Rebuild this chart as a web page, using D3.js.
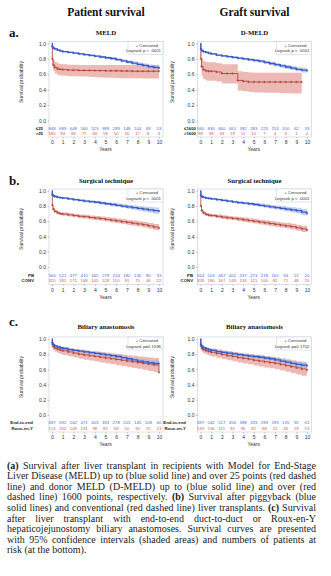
<!DOCTYPE html>
<html lang="en">
<head>
<meta charset="utf-8">
<title>Survival after liver transplant</title>
<script src="https://d3js.org/d3.v7.min.js"></script>
<style>
  body { margin: 0; background: #fff; }
  svg { display: block; }
  .axis text { font-family: "Liberation Sans", Arial, sans-serif; font-size: 5px; fill: #333; }
  .axis line { stroke: #8a8f99; stroke-width: 0.5; }
  .axis path { display: none; }
</style>
</head>
<body>
<script>
// time points (years) where each Kaplan-Meier estimate is tabulated
var years = [0, 0.03, 0.1, 0.25, 0.5, 0.75, 1, 1.5, 2, 2.5, 3, 3.5, 4, 4.5, 5, 5.5, 6, 6.5, 7, 7.5, 8, 8.5, 9, 9.5, 10];
var riskYears = [0, 1, 2, 3, 4, 5, 6, 7, 8, 9, 10];
var yTicks = [0, 0.2, 0.4, 0.6, 0.8, 1.0];

// (a) MELD, patient survival
var meldLowSurv = [1.00, 0.96, 0.94, 0.93, 0.915, 0.905, 0.895, 0.885, 0.875, 0.865, 0.855, 0.845, 0.835, 0.825, 0.815, 0.805, 0.79, 0.775, 0.76, 0.745, 0.73, 0.715, 0.70, 0.69, 0.68];
var meldLowLo   = [1.00, 0.95, 0.93, 0.92, 0.905, 0.895, 0.885, 0.874, 0.864, 0.853, 0.843, 0.832, 0.821, 0.81, 0.80, 0.788, 0.772, 0.756, 0.74, 0.723, 0.706, 0.69, 0.673, 0.66, 0.65];
var meldLowHi   = [1.00, 0.97, 0.95, 0.94, 0.925, 0.915, 0.905, 0.896, 0.886, 0.877, 0.867, 0.858, 0.849, 0.84, 0.83, 0.822, 0.808, 0.794, 0.78, 0.767, 0.754, 0.74, 0.727, 0.72, 0.71];
var meldHighSurv = [1.00, 0.80, 0.72, 0.69, 0.67, 0.665, 0.66, 0.655, 0.655, 0.65, 0.65, 0.65, 0.648, 0.648, 0.645, 0.645, 0.645, 0.643, 0.643, 0.64, 0.64, 0.64, 0.64, 0.64, 0.64];
var meldHighLo   = [1.00, 0.73, 0.65, 0.61, 0.59, 0.585, 0.58, 0.575, 0.575, 0.57, 0.57, 0.565, 0.562, 0.56, 0.555, 0.555, 0.552, 0.55, 0.55, 0.548, 0.548, 0.545, 0.545, 0.545, 0.545];
var meldHighHi   = [1.00, 0.86, 0.79, 0.76, 0.74, 0.735, 0.73, 0.725, 0.725, 0.72, 0.72, 0.72, 0.72, 0.72, 0.72, 0.72, 0.72, 0.72, 0.72, 0.72, 0.72, 0.72, 0.72, 0.72, 0.72];
var meldLowRisk  = [848, 689, 648, 560, 523, 389, 289, 148, 104, 83, 53];
var meldHighRisk = [180, 94, 86, 77, 68, 58, 50, 30, 17, 8, 3];

// (a) D-MELD, graft survival
var dmeldLowSurv = [1.00, 0.93, 0.91, 0.895, 0.885, 0.875, 0.865, 0.85, 0.84, 0.83, 0.82, 0.81, 0.80, 0.79, 0.78, 0.77, 0.755, 0.74, 0.725, 0.71, 0.695, 0.68, 0.665, 0.655, 0.645];
var dmeldLowLo   = [1.00, 0.92, 0.90, 0.885, 0.875, 0.864, 0.854, 0.838, 0.828, 0.817, 0.806, 0.795, 0.784, 0.773, 0.762, 0.75, 0.734, 0.718, 0.702, 0.686, 0.67, 0.654, 0.638, 0.625, 0.615];
var dmeldLowHi   = [1.00, 0.94, 0.92, 0.905, 0.895, 0.886, 0.876, 0.862, 0.852, 0.843, 0.834, 0.825, 0.816, 0.807, 0.798, 0.79, 0.776, 0.762, 0.748, 0.734, 0.72, 0.706, 0.692, 0.685, 0.675];
var dmeldHighSurv = [1.00, 0.80, 0.70, 0.66, 0.645, 0.64, 0.64, 0.63, 0.61, 0.61, 0.61, 0.52, 0.51, 0.50, 0.50, 0.50, 0.50, 0.50, 0.50, 0.50, 0.50, 0.50, 0.50, 0.50, null];
var dmeldHighLo   = [1.00, 0.68, 0.58, 0.54, 0.52, 0.515, 0.515, 0.505, 0.48, 0.48, 0.48, 0.39, 0.38, 0.37, 0.365, 0.365, 0.36, 0.36, 0.36, 0.355, 0.355, 0.35, 0.35, 0.35, null];
var dmeldHighHi   = [1.00, 0.90, 0.81, 0.77, 0.76, 0.755, 0.755, 0.745, 0.73, 0.73, 0.73, 0.64, 0.63, 0.625, 0.62, 0.62, 0.62, 0.62, 0.62, 0.62, 0.62, 0.62, 0.62, 0.62, null];
var dmeldLowRisk  = [940, 830, 660, 461, 382, 283, 223, 153, 100, 62, 33];
var dmeldHighRisk = [98, 38, 33, 19, 11, 10, 7, 4, 3, 1, 0];

// (b) surgical technique, patient survival
var techPatPbSurv = [1.00, 0.95, 0.935, 0.925, 0.915, 0.91, 0.905, 0.895, 0.885, 0.875, 0.865, 0.858, 0.85, 0.84, 0.83, 0.82, 0.81, 0.80, 0.79, 0.78, 0.77, 0.76, 0.75, 0.74, 0.73];
var techPatPbLo   = [1.00, 0.94, 0.925, 0.914, 0.904, 0.898, 0.892, 0.882, 0.871, 0.86, 0.849, 0.841, 0.832, 0.821, 0.81, 0.798, 0.786, 0.775, 0.763, 0.751, 0.739, 0.726, 0.713, 0.70, 0.685];
var techPatPbHi   = [1.00, 0.96, 0.945, 0.936, 0.926, 0.922, 0.918, 0.908, 0.899, 0.89, 0.881, 0.875, 0.868, 0.859, 0.85, 0.842, 0.834, 0.825, 0.817, 0.809, 0.801, 0.794, 0.787, 0.78, 0.775];
var techPatConvSurv = [1.00, 0.81, 0.76, 0.73, 0.71, 0.70, 0.695, 0.685, 0.675, 0.665, 0.66, 0.65, 0.643, 0.635, 0.625, 0.615, 0.605, 0.595, 0.585, 0.575, 0.565, 0.555, 0.54, 0.525, 0.51];
var techPatConvLo   = [1.00, 0.79, 0.74, 0.71, 0.69, 0.68, 0.674, 0.663, 0.652, 0.641, 0.635, 0.624, 0.616, 0.607, 0.596, 0.585, 0.574, 0.563, 0.552, 0.541, 0.53, 0.518, 0.502, 0.485, 0.465];
var techPatConvHi   = [1.00, 0.83, 0.78, 0.75, 0.73, 0.72, 0.716, 0.707, 0.698, 0.689, 0.685, 0.676, 0.67, 0.663, 0.654, 0.645, 0.636, 0.627, 0.618, 0.609, 0.60, 0.592, 0.578, 0.565, 0.555];
var techPatPbRisk   = [564, 521, 477, 410, 345, 279, 224, 182, 130, 80, 33];
var techPatConvRisk = [320, 181, 171, 168, 145, 128, 110, 91, 75, 46, 22];

// (b) surgical technique, graft survival
var techGraftPbSurv = [1.00, 0.94, 0.925, 0.915, 0.905, 0.90, 0.895, 0.885, 0.875, 0.865, 0.855, 0.845, 0.838, 0.83, 0.82, 0.81, 0.80, 0.79, 0.78, 0.77, 0.76, 0.75, 0.74, 0.72, 0.70];
var techGraftPbLo   = [1.00, 0.93, 0.915, 0.904, 0.894, 0.888, 0.882, 0.872, 0.861, 0.85, 0.839, 0.828, 0.82, 0.811, 0.80, 0.788, 0.776, 0.765, 0.753, 0.741, 0.729, 0.716, 0.703, 0.68, 0.655];
var techGraftPbHi   = [1.00, 0.95, 0.935, 0.926, 0.916, 0.912, 0.908, 0.898, 0.889, 0.88, 0.871, 0.862, 0.856, 0.849, 0.84, 0.832, 0.824, 0.815, 0.807, 0.799, 0.791, 0.784, 0.777, 0.76, 0.745];
var techGraftConvSurv = [1.00, 0.80, 0.74, 0.71, 0.69, 0.68, 0.675, 0.665, 0.655, 0.645, 0.638, 0.63, 0.62, 0.61, 0.60, 0.59, 0.58, 0.57, 0.56, 0.55, 0.54, 0.53, 0.515, 0.50, 0.485];
var techGraftConvLo   = [1.00, 0.78, 0.72, 0.69, 0.67, 0.659, 0.653, 0.642, 0.631, 0.62, 0.612, 0.603, 0.592, 0.581, 0.57, 0.559, 0.548, 0.537, 0.526, 0.515, 0.504, 0.492, 0.476, 0.46, 0.44];
var techGraftConvHi   = [1.00, 0.82, 0.76, 0.73, 0.71, 0.701, 0.697, 0.688, 0.679, 0.67, 0.664, 0.657, 0.648, 0.639, 0.63, 0.621, 0.612, 0.603, 0.594, 0.585, 0.576, 0.568, 0.554, 0.54, 0.53];
var techGraftPbRisk   = [564, 503, 467, 402, 337, 273, 218, 165, 94, 57, 20];
var techGraftConvRisk = [328, 180, 167, 149, 133, 121, 100, 82, 71, 48, 20];

// (c) biliary anastomosis, patient survival
var bilPatEndSurv = [1.00, 0.95, 0.925, 0.91, 0.895, 0.885, 0.875, 0.86, 0.85, 0.84, 0.83, 0.82, 0.81, 0.80, 0.79, 0.78, 0.77, 0.755, 0.74, 0.725, 0.71, 0.70, 0.69, 0.68, 0.675];
var bilPatEndLo   = [1.00, 0.94, 0.914, 0.898, 0.882, 0.871, 0.86, 0.844, 0.833, 0.822, 0.811, 0.80, 0.789, 0.778, 0.767, 0.756, 0.745, 0.729, 0.713, 0.697, 0.68, 0.668, 0.655, 0.64, 0.63];
var bilPatEndHi   = [1.00, 0.96, 0.936, 0.922, 0.908, 0.899, 0.89, 0.876, 0.867, 0.858, 0.849, 0.84, 0.831, 0.822, 0.813, 0.804, 0.795, 0.781, 0.767, 0.753, 0.74, 0.732, 0.725, 0.72, 0.72];
var bilPatRouxSurv = [1.00, 0.93, 0.90, 0.88, 0.865, 0.855, 0.845, 0.83, 0.815, 0.80, 0.79, 0.78, 0.77, 0.76, 0.75, 0.74, 0.73, 0.72, 0.71, 0.70, 0.69, 0.68, 0.67, 0.66, 0.56];
var bilPatRouxLo   = [1.00, 0.89, 0.855, 0.833, 0.815, 0.803, 0.791, 0.774, 0.757, 0.74, 0.728, 0.716, 0.704, 0.692, 0.68, 0.668, 0.656, 0.644, 0.632, 0.62, 0.607, 0.594, 0.58, 0.565, 0.44];
var bilPatRouxHi   = [1.00, 0.96, 0.94, 0.922, 0.91, 0.902, 0.894, 0.882, 0.87, 0.858, 0.85, 0.842, 0.834, 0.826, 0.818, 0.81, 0.802, 0.794, 0.786, 0.778, 0.77, 0.763, 0.757, 0.75, 0.69];
var bilPatEndRisk  = [697, 592, 562, 471, 403, 333, 278, 201, 145, 108, 60];
var bilPatRouxRisk = [174, 160, 149, 131, 98, 85, 68, 50, 30, 25, 13];

// (c) biliary anastomosis, graft survival
var bilGraftEndSurv = [1.00, 0.93, 0.905, 0.885, 0.87, 0.86, 0.85, 0.835, 0.825, 0.815, 0.805, 0.795, 0.785, 0.775, 0.77, 0.76, 0.75, 0.74, 0.725, 0.71, 0.695, 0.68, 0.665, 0.655, 0.645];
var bilGraftEndLo   = [1.00, 0.92, 0.893, 0.872, 0.856, 0.845, 0.834, 0.818, 0.807, 0.796, 0.785, 0.774, 0.763, 0.752, 0.746, 0.735, 0.724, 0.713, 0.697, 0.681, 0.665, 0.649, 0.632, 0.62, 0.605];
var bilGraftEndHi   = [1.00, 0.94, 0.917, 0.898, 0.884, 0.875, 0.866, 0.852, 0.843, 0.834, 0.825, 0.816, 0.807, 0.798, 0.794, 0.785, 0.776, 0.767, 0.753, 0.739, 0.725, 0.711, 0.698, 0.69, 0.685];
var bilGraftRouxSurv = [1.00, 0.91, 0.88, 0.86, 0.845, 0.835, 0.825, 0.81, 0.795, 0.78, 0.77, 0.755, 0.745, 0.735, 0.72, 0.71, 0.70, 0.69, 0.68, 0.665, 0.65, 0.635, 0.62, 0.605, 0.59];
var bilGraftRouxLo   = [1.00, 0.87, 0.835, 0.813, 0.795, 0.783, 0.771, 0.754, 0.737, 0.72, 0.708, 0.691, 0.679, 0.667, 0.65, 0.638, 0.626, 0.614, 0.602, 0.585, 0.568, 0.551, 0.534, 0.515, 0.495];
var bilGraftRouxHi   = [1.00, 0.94, 0.92, 0.902, 0.89, 0.882, 0.874, 0.862, 0.85, 0.838, 0.83, 0.818, 0.81, 0.802, 0.79, 0.782, 0.774, 0.766, 0.758, 0.745, 0.732, 0.719, 0.706, 0.695, 0.685];
var bilGraftEndRisk  = [697, 542, 517, 456, 388, 333, 283, 193, 135, 92, 61];
var bilGraftRouxRisk = [139, 136, 111, 95, 90, 81, 68, 51, 36, 19, 13];

var columnTitles = ["Patient survival", "Graft survival"];
var rowLetters = ["a.", "b.", "c."];

var caption = [
  "(a) Survival after liver transplant in recipients with Model for End-Stage",
  "Liver Disease (MELD) up to (blue solid line) and over 25 points (red dashed",
  "line) and donor MELD (D-MELD) up to (blue solid line) and over (red",
  "dashed line) 1600 points, respectively. (b) Survival after piggyback (blue",
  "solid lines) and conventional (red dashed line) liver transplants. (c) Survival",
  "after liver transplant with end-to-end duct-to-duct or Roux-en-Y",
  "hepaticojejunostomy biliary anastomoses. Survival curves are presented",
  "with 95% confidence intervals (shaded areas) and numbers of patients at",
  "risk (at the bottom)."
];

function series(s, lo, hi, risk) {
  return { s: s, lo: lo, hi: hi, risk: risk };
}

var panels = [
  { row: 0, col: 0, title: "MELD", groups: ["\u226425", ">25"], p: "Logrank p < .0001",
    top: series(meldLowSurv, meldLowLo, meldLowHi, meldLowRisk),
    bottom: series(meldHighSurv, meldHighLo, meldHighHi, meldHighRisk) },
  { row: 0, col: 1, title: "D-MELD", groups: ["\u22641600", ">1600"], p: "Logrank p < .0001",
    top: series(dmeldLowSurv, dmeldLowLo, dmeldLowHi, dmeldLowRisk),
    bottom: series(dmeldHighSurv, dmeldHighLo, dmeldHighHi, dmeldHighRisk) },
  { row: 1, col: 0, title: "Surgical technique", groups: ["PB", "CONV"], p: "Logrank p < .0001",
    top: series(techPatPbSurv, techPatPbLo, techPatPbHi, techPatPbRisk),
    bottom: series(techPatConvSurv, techPatConvLo, techPatConvHi, techPatConvRisk) },
  { row: 1, col: 1, title: "Surgical technique", groups: ["PB", "CONV"], p: "Logrank p < .0001",
    top: series(techGraftPbSurv, techGraftPbLo, techGraftPbHi, techGraftPbRisk),
    bottom: series(techGraftConvSurv, techGraftConvLo, techGraftConvHi, techGraftConvRisk) },
  { row: 2, col: 0, title: "Biliary anastomosis", groups: ["End-to-end", "Roux-en-Y"], p: "Logrank p=0.1596",
    top: series(bilPatEndSurv, bilPatEndLo, bilPatEndHi, bilPatEndRisk),
    bottom: series(bilPatRouxSurv, bilPatRouxLo, bilPatRouxHi, bilPatRouxRisk) },
  { row: 2, col: 1, title: "Biliary anastomosis", groups: ["End-to-end", "Roux-en-Y"], p: "Logrank p=0.1702",
    top: series(bilGraftEndSurv, bilGraftEndLo, bilGraftEndHi, bilGraftEndRisk),
    bottom: series(bilGraftRouxSurv, bilGraftRouxLo, bilGraftRouxHi, bilGraftRouxRisk) }
];

// layout of the 3 x 2 grid
var rows = [
  { frameTop: 41.5, y1: 43.5, y0: 120.5, risk: [130.2, 135.2], frameBottom: 137, titleY: 35.3, letterY: 36.5 },
  { frameTop: 189, y1: 190.8, y0: 267, risk: [276.7, 282.2], frameBottom: 284.5, titleY: 183.3, letterY: 184.5 },
  { frameTop: 337, y1: 339, y0: 415, risk: [424.4, 429.7], frameBottom: 432, titleY: 329, letterY: 326 }
];
var cols = [
  { left: 49, right: 163, x0: 52, x10: 159, yLabelX: 23, groupRight: [43, 34, 33] },
  { left: 197.5, right: 311.5, x0: 200.5, x10: 307, yLabelX: 173.5, groupRight: [196, 193, 186] }
];

var blue = "#3b5bc4", red = "#a93a2f";
var blueBand = "#9fb2ea", redBand = "#e6a29b";
var blueText = "#4b6bd2", redText = "#cf5c4f";
var sans = "'Liberation Sans', Arial, sans-serif";
var serif = "'Liberation Serif', 'Times New Roman', serif";

var svg = d3.select("body").append("svg")
  .attr("width", 331)
  .attr("height", 576);

// column headings
columnTitles.forEach(function(t, i) {
  svg.append("text")
    .attr("x", (cols[i].left + cols[i].right) / 2)
    .attr("y", 16)
    .attr("text-anchor", "middle")
    .attr("font-family", serif)
    .attr("font-weight", "bold")
    .attr("font-size", "11.5px")
    .attr("fill", "#111")
    .text(t);
});

rowLetters.forEach(function(t, i) {
  svg.append("text")
    .attr("x", 9)
    .attr("y", rows[i].letterY)
    .attr("font-family", serif)
    .attr("font-weight", "bold")
    .attr("font-size", "13px")
    .attr("fill", "#111")
    .text(t);
});

function toPoints(d) {
  return years.map(function(t, i) {
    return { t: t, s: d.s[i], lo: d.lo[i], hi: d.hi[i] };
  }).filter(function(p) { return p.s != null; });
}

function drawPanel(p) {
  var r = rows[p.row], c = cols[p.col];
  var g = svg.append("g");

  var x = d3.scaleLinear().domain([0, 10]).range([c.x0, c.x10]);
  var y = d3.scaleLinear().domain([0, 1]).range([r.y0, r.y1]);

  // panel title
  g.append("text")
    .attr("x", (c.left + c.right) / 2)
    .attr("y", r.titleY)
    .attr("text-anchor", "middle")
    .attr("font-family", serif)
    .attr("font-weight", "bold")
    .attr("font-size", "6.8px")
    .attr("fill", "#111")
    .text(p.title);

  // confidence bands
  var band = d3.area()
    .curve(d3.curveStepAfter)
    .x(function(d) { return x(d.t); })
    .y0(function(d) { return y(d.lo); })
    .y1(function(d) { return y(d.hi); });

  var line = d3.line()
    .curve(d3.curveStepAfter)
    .x(function(d) { return x(d.t); })
    .y(function(d) { return y(d.s); });

  var sets = [
    { pts: toPoints(p.bottom), col: red, fill: redBand, op: 0.75, w: 0.8 },
    { pts: toPoints(p.top), col: blue, fill: blueBand, op: 0.6, w: 1.3 }
  ];

  sets.forEach(function(s) {
    g.append("path")
      .attr("d", band(s.pts))
      .attr("fill", s.fill)
      .attr("fill-opacity", s.op);
  });

  sets.forEach(function(s) {
    g.append("path")
      .attr("d", line(s.pts))
      .attr("fill", "none")
      .attr("stroke", s.col)
      .attr("stroke-width", s.w);

    // censor marks
    g.selectAll(null)
      .data(s.pts.slice(1))
      .enter()
      .append("path")
      .attr("transform", function(d) { return "translate(" + x(d.t) + "," + y(d.s) + ")"; })
      .attr("d", "M-1.2,0H1.2M0,-1.2V1.2")
      .attr("stroke", s.col)
      .attr("stroke-width", 0.6);
  });

  // plot frame, risk table sits inside it
  g.append("rect")
    .attr("x", c.left)
    .attr("y", r.frameTop)
    .attr("width", c.right - c.left)
    .attr("height", r.frameBottom - r.frameTop)
    .attr("fill", "none")
    .attr("stroke", "#c3cbdd")
    .attr("stroke-width", 0.6);

  // legend box
  var lw = 35;
  g.append("rect")
    .attr("x", c.right - lw)
    .attr("y", r.frameTop)
    .attr("width", lw)
    .attr("height", 13)
    .attr("fill", "#fff")
    .attr("stroke", "#c3cbdd")
    .attr("stroke-width", 0.5);
  g.append("text")
    .attr("x", c.right - 5)
    .attr("y", r.frameTop + 5)
    .attr("text-anchor", "end")
    .attr("font-family", sans)
    .attr("font-size", "4.3px")
    .attr("fill", "#333")
    .text("+ Censored");
  g.append("text")
    .attr("x", c.right - 2)
    .attr("y", r.frameTop + 10.8)
    .attr("text-anchor", "end")
    .attr("font-family", sans)
    .attr("font-size", "4.3px")
    .attr("fill", "#333")
    .text(p.p);

  // axes
  g.append("g")
    .attr("class", "axis")
    .attr("transform", "translate(" + c.left + ",0)")
    .call(d3.axisLeft(y).tickValues(yTicks).tickSize(1.5).tickPadding(1.5).tickFormat(d3.format(".1f")));

  g.append("g")
    .attr("class", "axis")
    .attr("transform", "translate(0," + r.frameBottom + ")")
    .call(d3.axisBottom(x).tickValues(riskYears).tickSize(1.5).tickPadding(2).tickFormat(d3.format("d")));

  g.append("text")
    .attr("x", (c.x0 + c.x10) / 2)
    .attr("y", r.frameBottom + 14)
    .attr("text-anchor", "middle")
    .attr("font-family", sans)
    .attr("font-size", "5px")
    .attr("fill", "#333")
    .text("Years");

  g.append("text")
    .attr("transform", "translate(" + c.yLabelX + "," + ((r.y0 + r.y1) / 2) + ") rotate(-90)")
    .attr("text-anchor", "middle")
    .attr("font-family", sans)
    .attr("font-size", "5px")
    .attr("fill", "#333")
    .text("Survival probability");

  // numbers at risk
  [p.top, p.bottom].forEach(function(d, k) {
    g.append("text")
      .attr("x", c.groupRight[p.row])
      .attr("y", r.risk[k])
      .attr("text-anchor", "end")
      .attr("font-family", sans)
      .attr("font-weight", "bold")
      .attr("font-size", "4.3px")
      .attr("fill", "#222")
      .text(p.groups[k]);

    g.selectAll(null)
      .data(d.risk)
      .enter()
      .append("text")
      .attr("x", function(v, i) { return x(riskYears[i]); })
      .attr("y", r.risk[k])
      .attr("text-anchor", "middle")
      .attr("font-family", sans)
      .attr("font-size", "4.3px")
      .attr("fill", k === 0 ? blueText : redText)
      .text(function(v) { return v; });
  });
}

panels.forEach(drawPanel);

// figure caption, justified between the margins
var capLeft = 7, capRight = 316, capTop = 468.5, capStep = 10.6;
caption.forEach(function(line, i) {
  var t = svg.append("text")
    .attr("x", capLeft)
    .attr("y", capTop + i * capStep)
    .attr("font-family", serif)
    .attr("font-size", "10px")
    .attr("fill", "#1a1a1a")
    .attr("xml:space", "preserve");

  line.split(/(\([abc]\))/).forEach(function(part) {
    if (!part) return;
    t.append("tspan")
      .attr("font-weight", /^\([abc]\)$/.test(part) ? "bold" : null)
      .text(part);
  });

  if (i < caption.length - 1) {
    var natural = t.node().getComputedTextLength();
    var spaces = line.split(" ").length - 1;
    t.attr("word-spacing", ((capRight - capLeft - natural) / spaces).toFixed(2));
  }
});
</script>
</body>
</html>
